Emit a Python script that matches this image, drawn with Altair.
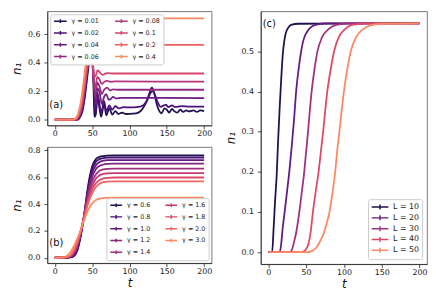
import altair as alt
import pandas as pd

FONT = "DejaVu Sans"

# ---------------- panel (a) ----------------
a_labels = ["γ = 0.01", "γ = 0.02", "γ = 0.04", "γ = 0.06",
            "γ = 0.08", "γ = 0.1", "γ = 0.2", "γ = 0.4"]
a_colors = ["#221150", "#4a1079", "#6c1d81", "#902a81",
            "#b5367a", "#d6456c", "#f0605d", "#fc8961"]
a_t = [
    [0, 31, 34, 37, 40, 43, 46, 48, 50, 52, 53, 55, 57, 59, 62, 66, 69, 73, 77, 81,
     85, 90, 95, 105, 112, 118, 123, 127, 130, 133, 136, 140, 143, 147, 150, 153, 157, 160, 164, 168,
     172, 176, 180, 186, 190, 195, 200],
    [0, 30, 33, 36, 39, 42, 45, 48, 50, 52, 54, 55, 57, 59, 62, 66, 69, 73, 77, 81,
     86, 92, 100, 110, 118, 124, 128, 131, 134, 138, 142, 146, 149, 152, 157, 161, 170, 180, 200],
    [0, 29, 32, 35, 38, 41, 44, 47, 49, 51, 53, 55, 57, 60, 63, 66, 69, 72, 75, 78, 82, 90, 200],
    [0, 28, 31, 34, 37, 40, 43, 46, 48, 50, 52, 54, 57, 60, 63, 66, 70, 74, 78, 85, 200],
    [0, 28, 31, 34, 37, 40, 43, 46, 48, 50, 52, 54, 57, 60, 63, 66, 70, 75, 80, 200],
    [0, 27, 30, 33, 36, 39, 42, 45, 47, 49, 51, 53, 55, 57, 59, 62, 65, 68, 72, 78, 200],
    [0, 26, 29, 32, 35, 38, 41, 44, 47, 50, 53, 57, 62, 70, 200],
    [0, 25, 28, 31, 34, 37, 40, 43, 46, 49, 52, 55, 60, 200],
]
a_n = [
    [0, 0, 0.02, 0.06, 0.15, 0.28, 0.41, 0.47, 0.43, 0.2, 0.02, 0.04, 0.17, 0.11, 0.02, 0.11, 0.03, 0.08, 0.035, 0.06,
     0.04, 0.05, 0.04, 0.042, 0.05, 0.08, 0.13, 0.19, 0.225, 0.19, 0.12, 0.06, 0.045, 0.08, 0.07, 0.05, 0.075, 0.06, 0.05, 0.07,
     0.055, 0.065, 0.058, 0.065, 0.055, 0.065, 0.06],
    [0, 0, 0.02, 0.06, 0.14, 0.26, 0.39, 0.48, 0.47, 0.3, 0.08, 0.05, 0.19, 0.14, 0.05, 0.13, 0.06, 0.1, 0.07, 0.095,
     0.08, 0.088, 0.086, 0.088, 0.1, 0.14, 0.185, 0.2, 0.175, 0.12, 0.09, 0.1, 0.105, 0.088, 0.1, 0.09, 0.095, 0.092, 0.092],
    [0, 0, 0.015, 0.05, 0.12, 0.24, 0.37, 0.47, 0.49, 0.4, 0.2, 0.1, 0.22, 0.19, 0.11, 0.16, 0.18, 0.14, 0.145, 0.16,
     0.15, 0.153, 0.152],
    [0, 0, 0.012, 0.045, 0.11, 0.22, 0.34, 0.45, 0.485, 0.43, 0.28, 0.16, 0.26, 0.23, 0.18, 0.21, 0.225, 0.205, 0.212, 0.21,
     0.21],
    [0, 0, 0.015, 0.05, 0.12, 0.23, 0.35, 0.45, 0.48, 0.42, 0.3, 0.22, 0.3, 0.28, 0.25, 0.265, 0.272, 0.266, 0.268, 0.267],
    [0, 0, 0.01, 0.04, 0.1, 0.2, 0.32, 0.43, 0.48, 0.47, 0.38, 0.3, 0.31, 0.345, 0.34, 0.32, 0.315, 0.325, 0.327, 0.324,
     0.324],
    [0, 0, 0.01, 0.04, 0.1, 0.2, 0.32, 0.43, 0.51, 0.545, 0.535, 0.522, 0.525, 0.524, 0.524],
    [0, 0, 0.01, 0.04, 0.1, 0.2, 0.33, 0.46, 0.57, 0.65, 0.69, 0.705, 0.71, 0.71],
]

# ---------------- panel (b) ----------------
b_labels = ["γ = 0.6", "γ = 0.8", "γ = 1.0", "γ = 1.2", "γ = 1.4",
            "γ = 1.6", "γ = 1.8", "γ = 2.0", "γ = 3.0"]
b_colors = ["#221150", "#461078", "#641a80", "#822681", "#a1307e",
            "#c23b75", "#de4968", "#f3655d", "#fc8961"]
b_grid = [0, 10, 15, 20, 25, 30, 35, 40, 45, 50, 55, 60, 65, 70, 80, 90, 200]
b_n = [
    [0, 0, 0, 0.002, 0.01, 0.05, 0.17, 0.35, 0.55, 0.68, 0.735, 0.752, 0.758, 0.761, 0.762, 0.762, 0.762],
    [0, 0, 0, 0.003, 0.015, 0.06, 0.175, 0.345, 0.53, 0.655, 0.715, 0.735, 0.743, 0.746, 0.747, 0.747, 0.747],
    [0, 0, 0, 0.004, 0.02, 0.07, 0.18, 0.34, 0.51, 0.63, 0.69, 0.714, 0.723, 0.727, 0.728, 0.728, 0.728],
    [0, 0, 0.001, 0.006, 0.026, 0.08, 0.19, 0.335, 0.49, 0.6, 0.66, 0.685, 0.695, 0.699, 0.701, 0.701, 0.701],
    [0, 0, 0.002, 0.008, 0.032, 0.09, 0.195, 0.33, 0.465, 0.565, 0.62, 0.648, 0.658, 0.663, 0.665, 0.665, 0.665],
    [0, 0, 0.002, 0.01, 0.038, 0.1, 0.2, 0.325, 0.445, 0.535, 0.588, 0.614, 0.625, 0.629, 0.631, 0.631, 0.631],
    [0, 0.001, 0.003, 0.013, 0.045, 0.11, 0.205, 0.32, 0.425, 0.505, 0.555, 0.58, 0.591, 0.596, 0.598, 0.598, 0.598],
    [0, 0.001, 0.004, 0.016, 0.052, 0.118, 0.21, 0.315, 0.41, 0.48, 0.527, 0.552, 0.563, 0.567, 0.569, 0.569, 0.569],
    [0, 0.002, 0.01, 0.035, 0.08, 0.14, 0.21, 0.29, 0.36, 0.405, 0.43, 0.441, 0.445, 0.447, 0.448, 0.448, 0.448],
]
b_t = [b_grid] * len(b_labels)

# ---------------- panel (c) ----------------
c_labels = ["L = 10", "L = 20", "L = 30", "L = 40", "L = 50"]
c_colors = ["#221150", "#641a80", "#a1307e", "#de4968", "#fc8961"]
c_t = [
    [0, 5, 7, 9, 11, 13, 15, 17, 19, 21, 23, 26, 30, 40, 200],
    [0, 15, 17, 19, 21.6, 25, 28, 31, 34, 37, 40, 43, 46, 50, 55, 62, 75, 200],
    [0, 28, 31, 34, 37, 41, 44, 47.5, 50, 52.5, 57, 61, 65, 71, 80, 90, 105, 200],
    [0, 44, 49, 53, 56, 59, 63, 66.5, 69.5, 72.5, 78, 82, 87, 93, 101, 111, 130, 200],
    [0, 52, 58, 63, 68, 73, 77, 81, 85, 88.5, 91, 94, 100, 104, 109, 116, 125, 135, 150, 200],
]
c_n = [
    [0, 0, 0.06, 0.13, 0.19, 0.28, 0.36, 0.43, 0.49, 0.525, 0.545, 0.558, 0.566, 0.569, 0.57],
    [0, 0, 0.02, 0.06, 0.1, 0.155, 0.205, 0.265, 0.33, 0.405, 0.455, 0.495, 0.525, 0.545, 0.558, 0.566, 0.57, 0.57],
    [0, 0, 0.005, 0.025, 0.05, 0.1, 0.145, 0.2, 0.25, 0.3, 0.395, 0.455, 0.5, 0.535, 0.556, 0.566, 0.57, 0.57],
    [0, 0, 0.005, 0.02, 0.05, 0.1, 0.155, 0.2, 0.25, 0.3, 0.4, 0.45, 0.5, 0.535, 0.555, 0.566, 0.57, 0.57],
    [0, 0, 0.003, 0.01, 0.025, 0.045, 0.07, 0.1, 0.15, 0.2, 0.25, 0.3, 0.4, 0.45, 0.5, 0.535, 0.555, 0.565, 0.569, 0.57],
]

x_ticks = [0, 50, 100, 150, 200]


def long_table(labels, ts, ns, key):
    rows = []
    for lab, tt, nn in zip(labels, ts, ns):
        for t, n in zip(tt, nn):
            rows.append({"t": t, "n": n, key: lab})
    return pd.DataFrame(rows)


# legend glyph: a line segment with a small "+" marker in its middle
SYMBOL = "M-1,0L3,0M1,-0.6L1,0.6"


def panel(labels, colors, ts, ns, key, ncol, ydom, yticks, w, h, xtitle,
          lorient, loffset, lfont, lsym, lrow, lcol, tag, tag_y):
    df = long_table(labels, ts, ns, key)
    xaxis = alt.Axis(values=x_ticks, title=xtitle) if xtitle else alt.Axis(values=x_ticks, title=None)
    half = lsym ** 0.5
    lines = alt.Chart(df).mark_line(strokeWidth=1.8, interpolate="monotone").encode(
        x=alt.X("t:Q", scale=alt.Scale(domain=[-10, 210], nice=False, zero=False), axis=xaxis),
        y=alt.Y("n:Q", scale=alt.Scale(domain=ydom, nice=False, zero=False),
                axis=alt.Axis(values=yticks, format=".1f", title="n₁")),
        color=alt.Color(f"{key}:N", scale=alt.Scale(domain=labels, range=colors),
                        legend=alt.Legend(title=None, orient=lorient, offset=loffset, columns=ncol,
                                          symbolType=SYMBOL, symbolSize=lsym, symbolStrokeWidth=1.5,
                                          symbolFillColor="transparent",
                                          labelFont=FONT, labelFontSize=lfont, labelColor="#222",
                                          fillColor="white", strokeColor="#cccccc", padding=3,
                                          cornerRadius=2, rowPadding=lrow, columnPadding=lcol,
                                          labelOffset=4 + half)),
    )
    txt = alt.Chart(pd.DataFrame({"lab": [tag]})).mark_text(
        align="left", baseline="middle", fontSize=10, font=FONT, color="#111"
    ).encode(text="lab:N", x=alt.value(2), y=alt.value(tag_y))
    return alt.layer(lines, txt).properties(width=w, height=h)


pa = panel(a_labels, a_colors, a_t, a_n, "ga", 2, [-0.04, 0.76], [0.0, 0.2, 0.4, 0.6],
           167, 116, None, "top-left", 3, 6.5, 42, 2, 12, "(a)", 95)
pb = panel(b_labels, b_colors, b_t, b_n, "gb", 2, [-0.04, 0.825], [0.0, 0.2, 0.4, 0.6, 0.8],
           167, 118, "t", "bottom-right", 3, 6.5, 36, 2, 12, "(b)", 98)
pc = panel(c_labels, c_colors, c_t, c_n, "L", 1, [-0.03, 0.6], [0.0, 0.1, 0.2, 0.3, 0.4, 0.5],
           169, 257, "t", "bottom-right", 5, 8, 72, -1, 10, "(c)", 13)

left = alt.vconcat(pa, pb, spacing=8).resolve_scale(color="independent").resolve_legend(color="independent")
chart = alt.hconcat(left, pc, spacing=11).resolve_scale(color="independent").resolve_legend(color="independent")

chart = chart.properties(
    padding={"left": 2, "top": 0, "right": 0, "bottom": 0}
).configure(font=FONT).configure_axis(
    labelFont=FONT, labelFontSize=8, labelColor="#222",
    titleFont=FONT, titleFontSize=12, titleFontWeight="normal", titleFontStyle="italic", titleColor="#111",
    tickColor="#222", tickSize=3.5, tickWidth=0.8, domainColor="#222", domainWidth=0.8, grid=False,
).configure_axisX(labelPadding=1, titlePadding=2).configure_axisY(labelPadding=4, titlePadding=4).configure_view(
    stroke="#555", strokeWidth=0.8
)

chart.save("out.html", embed_options={"renderer": "svg", "actions": False})
